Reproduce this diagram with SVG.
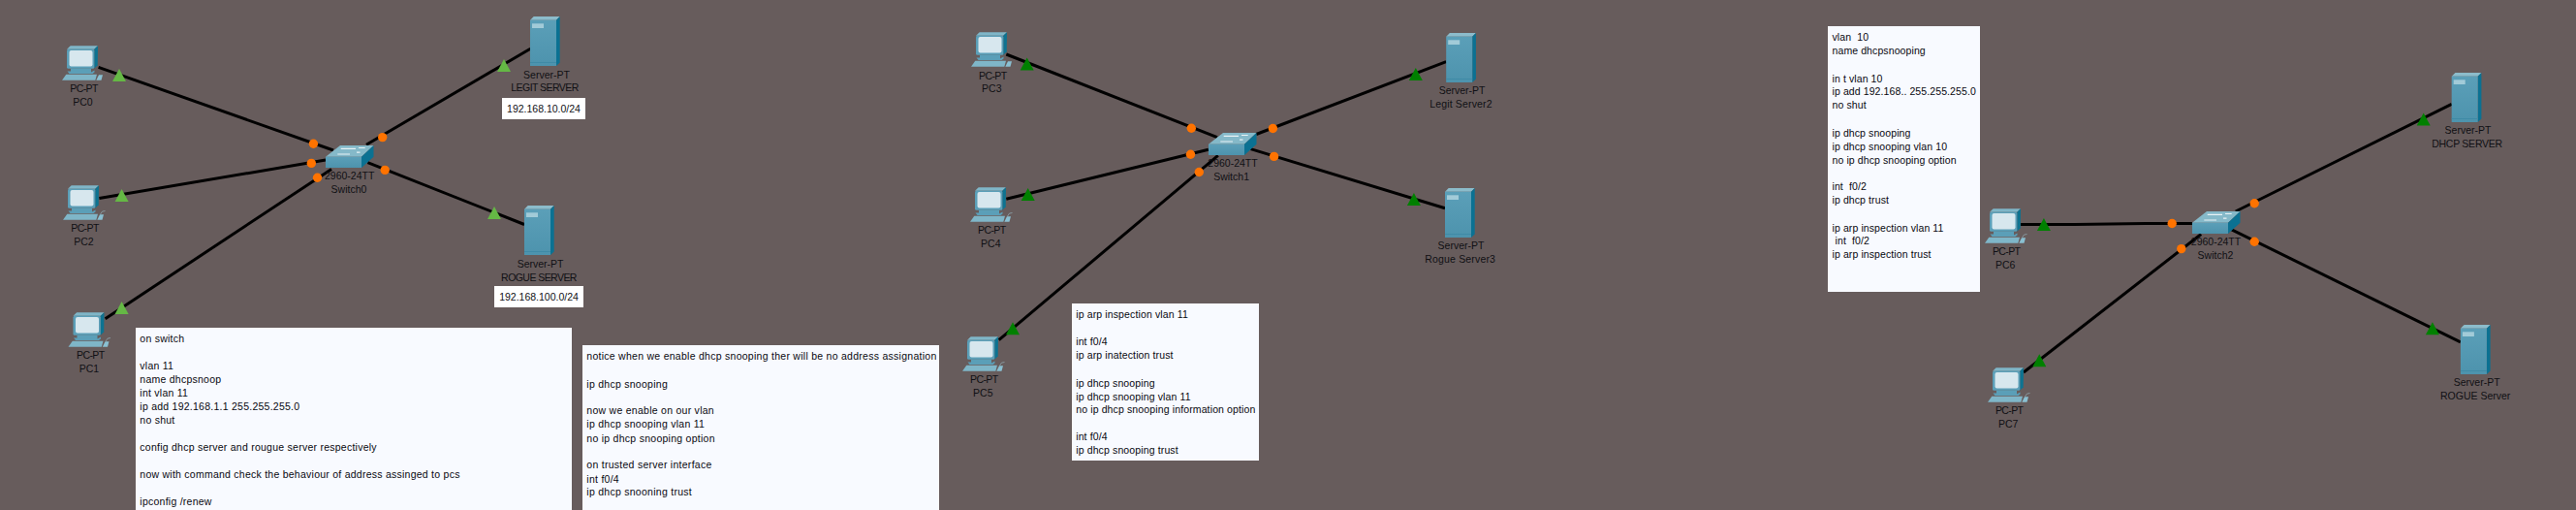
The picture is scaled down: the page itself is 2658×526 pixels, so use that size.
<svg xmlns="http://www.w3.org/2000/svg" width="2658" height="526" viewBox="0 0 2658 526">
<style>
text{font-family:"Liberation Sans",Arial,sans-serif;font-size:10.5px;fill:#08080f;white-space:pre}
.lb{text-anchor:middle;fill:#101014}
.pp{letter-spacing:-.6px}
.nu{letter-spacing:-.55px}
.wd{letter-spacing:.16px}
.up{letter-spacing:-.25px}
#Note1 text{letter-spacing:.25px}
#Note2 text{letter-spacing:.27px}
#Note3 text{letter-spacing:.13px}
#Note4 text{letter-spacing:.1px}
.link{stroke:#000;stroke-width:3;fill:none}
.note{fill:#f8faff}
.wb{fill:#fff}
.dot{fill:#ff7300}
.tl{fill:#65b845}
.td{fill:#008000}
</style>
<defs>
<linearGradient id="fr" x1="0" y1="0" x2="0" y2="1"><stop offset="0" stop-color="#5b9fb8"/><stop offset="1" stop-color="#4d93ad"/></linearGradient>
<g id="pc">
<path d="M5 3.7 8.7.3H37L33.3 3.7Z" fill="#7fb6c8"/>
<path d="M33.3 3.7 37 .3 36.7 20.3 33.3 23.7Z" fill="#0d7391"/>
<rect x="5" y="3.7" width="28.3" height="20" rx="1.5" fill="#5b9fb8"/>
<rect x="7.5" y="5" width="24" height="16.5" rx="2" fill="#d7e7ee"/>
<path d="M9 23.7H30V27.5L33.5 25.5V27.5L31.5 29H7.5L5.5 26.5H9Z" fill="#5b9fb8"/>
<path d="M4.3 29.8H36L34.3 35.7H0Z" fill="#7fb6c8"/>
<path d="M38 30.3H42L40.5 35.7H35.3Z" fill="#8ac0d2"/>
</g>
<g id="pcc">
<use href="#pc"/>
<path d="M38.5 30Q40 26 43.5 26.5" fill="none" stroke="#8ea6ad" stroke-width=".8"/>
</g>
<g id="srv">
<path d="M0 3.7 3.7 0H30.7L27 3.7Z" fill="#8cbccb"/>
<path d="M27 3.7 30.7 0V47.5L27 51Z" fill="#0b7192"/>
<rect x="0" y="3.7" width="27" height="47.3" fill="url(#fr)"/>
<rect x="0" y="47" width="27" height="1" fill="#3f8aa6"/>
<rect x="2" y="7.3" width="12" height="4.7" fill="#a2cbd8"/>
</g>
<g id="sw">
<path d="M0 11.7 15 0H49.5L37 11.7Z" fill="#85b9c9"/>
<path d="M37 11.7 49.5 0V11.7L37 23Z" fill="#0b7192"/>
<rect x="0" y="11.7" width="37" height="11.3" fill="url(#fr)"/>
<path d="M15.7 3.3H31M34 2.5H40.7M12.3 9H25M32 7.2H35.5" stroke="#e8f2f5" stroke-width="1.2" fill="none"/>
</g>
<path id="tri" d="M0-6.5 7 6.5H-7Z"/>
</defs>

<rect width="2658" height="526" fill="#675c5c"/>

<g id="connectors">
<path class="link" d="M101.6 69.4 344 155"/>
<path class="link" d="M102.4 204.6 336 165"/>
<path class="link" d="M108.6 328.7 342 174.4"/>
<path class="link" d="M547.3 50.3 378 149.3"/>
<path class="link" d="M541 231.5 379.4 167.7"/>
<path class="link" d="M1038.3 56 1256 141.6"/>
<path class="link" d="M1038.3 205.3 1246.9 154.3"/>
<path class="link" d="M1030.7 350.6 1256.8 160.3"/>
<path class="link" d="M1492.2 63.7 1296.2 138.5"/>
<path class="link" d="M1491 214.7 1290.5 153.6"/>
<path class="link" d="M2085 231.5H2141L2213 230.5H2262"/>
<path class="link" d="M2088 384 2271.2 241.5"/>
<path class="link" d="M2529.7 107.3 2306.8 218"/>
<path class="link" d="M2538.9 352.9 2302.7 236.8"/>
<g class="tl">
<use href="#tri" x="123" y="77.5"/><use href="#tri" x="125.6" y="201.5"/><use href="#tri" x="125.6" y="317.5"/><use href="#tri" x="520" y="67.5"/><use href="#tri" x="510" y="219.5"/>
</g>
<g class="td">
<use href="#tri" x="1059.7" y="66"/><use href="#tri" x="1060.7" y="200.6"/><use href="#tri" x="1045" y="338.8"/><use href="#tri" x="1460.8" y="76.5"/><use href="#tri" x="1458.9" y="205.6"/>
<use href="#tri" x="2108.9" y="231.5"/><use href="#tri" x="2104.3" y="371.7"/><use href="#tri" x="2500.7" y="123.1"/><use href="#tri" x="2509.9" y="338.8"/>
</g>
<g class="dot">
<circle cx="323.4" cy="148.3" r="4.7"/><circle cx="321.3" cy="168.4" r="4.7"/><circle cx="327.5" cy="183.2" r="4.7"/><circle cx="394.7" cy="141.6" r="4.7"/><circle cx="397.2" cy="175.4" r="4.7"/>
<circle cx="1229.3" cy="132.2" r="4.7"/><circle cx="1228.5" cy="159.3" r="4.7"/><circle cx="1237.3" cy="177.5" r="4.7"/><circle cx="1313.4" cy="132.5" r="4.7"/><circle cx="1314.6" cy="161.4" r="4.7"/>
<circle cx="2241.2" cy="230.5" r="4.7"/><circle cx="2250.8" cy="256.6" r="4.7"/><circle cx="2326.2" cy="209.7" r="4.7"/><circle cx="2326.2" cy="249.2" r="4.7"/>
</g>
</g>

<g id="PC0"><use href="#pc" x="64" y="47"/><text class="lb pp" x="86.6" y="95">PC-PT</text><text class="lb" x="85.5" y="109">PC0</text></g>
<g id="PC2"><use href="#pcc" x="65" y="191"/><text class="lb pp" x="87.5" y="239">PC-PT</text><text class="lb" x="86.5" y="253">PC2</text></g>
<g id="PC1"><use href="#pcc" x="70.5" y="322"/><text class="lb pp" x="93.3" y="370">PC-PT</text><text class="lb" x="92" y="384">PC1</text></g>
<g id="Switch0"><use href="#sw" x="336" y="150"/><text class="lb" x="360.7" y="185">2960-24TT</text><text class="lb" x="360" y="199">Switch0</text></g>
<g id="LegitServer"><use href="#srv" x="547" y="17"/><text class="lb" x="564" y="80.5">Server-PT</text><text class="lb nu" x="562" y="94">LEGIT SERVER</text></g>
<g id="LegitNet"><rect class="wb" x="518" y="101" width="86" height="22"/><text class="lb" x="561" y="116">192.168.10.0/24</text></g>
<g id="RogueServer"><use href="#srv" x="541" y="212"/><text class="lb" x="557.6" y="275.5">Server-PT</text><text class="lb nu" x="556" y="289.5">ROGUE SERVER</text></g>
<g id="RogueNet"><rect class="wb" x="510" y="295" width="92" height="22"/><text class="lb" x="556" y="310">192.168.100.0/24</text></g>

<g id="Note1"><rect class="note" x="140" y="338" width="450" height="188"/>
<text x="144.3" y="353">on switch</text>
<text x="144.3" y="381">vlan 11</text>
<text x="144.3" y="395">name dhcpsnoop</text>
<text x="144.3" y="409">int vlan 11</text>
<text x="144.3" y="423">ip add 192.168.1.1 255.255.255.0</text>
<text x="144.3" y="437">no shut</text>
<text x="144.3" y="465">config dhcp server and rougue server respectively</text>
<text x="144.3" y="493">now with command check the behaviour of address assinged to pcs</text>
<text x="144.3" y="521">ipconfig /renew</text>
</g>
<g id="Note2"><rect class="note" x="601" y="356" width="368" height="170"/>
<text x="605.3" y="371">notice when we enable dhcp snooping ther will be no address assignation</text>
<text x="605.3" y="399.5">ip dhcp snooping</text>
<text x="605.3" y="427.3">now we enable on our vlan</text>
<text x="605.3" y="441.4">ip dhcp snooping vlan 11</text>
<text x="605.3" y="455.5">no ip dhcp snooping option</text>
<text x="605.3" y="483.4">on trusted server interface</text>
<text x="605.3" y="497.5">int f0/4</text>
<text x="605.3" y="511.2">ip dhcp snooning trust</text>
</g>

<g id="PC3"><use href="#pc" x="1002" y="33"/><text class="lb pp" x="1024.3" y="81.5">PC-PT</text><text class="lb" x="1023.3" y="95.2">PC3</text></g>
<g id="PC4"><use href="#pcc" x="1001" y="193"/><text class="lb pp" x="1023.3" y="241.2">PC-PT</text><text class="lb" x="1022.3" y="255.3">PC4</text></g>
<g id="PC5"><use href="#pcc" x="993" y="347"/><text class="lb pp" x="1015.3" y="395.1">PC-PT</text><text class="lb" x="1014.3" y="409.2">PC5</text></g>
<g id="Switch1"><use href="#sw" x="1247" y="137"/><text class="lb" x="1272" y="172.4">2960-24TT</text><text class="lb" x="1270.6" y="186.2">Switch1</text></g>
<g id="LegitServer2"><use href="#srv" x="1492.2" y="34"/><text class="lb" x="1508.6" y="97.3">Server-PT</text><text class="lb wd" x="1507.5" y="111.3">Legit Server2</text></g>
<g id="RogueServer3"><use href="#srv" x="1491" y="194"/><text class="lb" x="1507.5" y="257">Server-PT</text><text class="lb wd" x="1506.7" y="271">Rogue Server3</text></g>
<g id="Note3"><rect class="note" x="1106" y="313" width="193" height="162"/>
<text x="1110.2" y="328.4">ip arp inspection vlan 11</text>
<text x="1110.2" y="356.2">int f0/4</text>
<text x="1110.2" y="370.3">ip arp inatection trust</text>
<text x="1110.2" y="398.5">ip dhcp snooping</text>
<text x="1110.2" y="412.6">ip dhcp snooping vlan 11</text>
<text x="1110.2" y="426.3">no ip dhcp snooping information option</text>
<text x="1110.2" y="454.2">int f0/4</text>
<text x="1110.2" y="468.3">ip dhcp snooping trust</text>
</g>

<g id="Note4"><rect class="note" x="1886" y="27" width="157" height="274"/>
<text x="1890.5" y="42.2">vlan  10</text>
<text x="1890.5" y="56.3">name dhcpsnooping</text>
<text x="1890.5" y="84.5">in t vlan 10</text>
<text x="1890.5" y="98.3">ip add 192.168.. 255.255.255.0</text>
<text x="1890.5" y="112.4">no shut</text>
<text x="1890.5" y="140.5">ip dhcp snooping</text>
<text x="1890.5" y="154.6">ip dhcp snooping vlan 10</text>
<text x="1890.5" y="168.7">no ip dhcp snooping option</text>
<text x="1890.5" y="196.2">int  f0/2</text>
<text x="1890.5" y="210.3">ip dhcp trust</text>
<text x="1890.5" y="238.5">ip arp inspection vlan 11</text>
<text x="1890.5" y="252.2"> int  f0/2</text>
<text x="1890.5" y="266.3">ip arp inspection trust</text>
</g>
<g id="PC6"><use href="#pcc" x="2048" y="215"/><text class="lb pp" x="2070.2" y="263.3">PC-PT</text><text class="lb" x="2069.2" y="277.4">PC6</text></g>
<g id="PC7"><use href="#pcc" x="2051" y="379"/><text class="lb pp" x="2073.2" y="427.3">PC-PT</text><text class="lb" x="2072.2" y="441.4">PC7</text></g>
<g id="Switch2"><use href="#sw" x="2262" y="218"/><text class="lb" x="2286.5" y="253.2">2960-24TT</text><text class="lb" x="2286" y="267.3">Switch2</text></g>
<g id="DHCPServer"><use href="#srv" x="2529.7" y="75"/><text class="lb" x="2546.5" y="138.2">Server-PT</text><text class="lb up" x="2545.5" y="151.9">DHCP SERVER</text></g>
<g id="RogueServer4"><use href="#srv" x="2538.9" y="335"/><text class="lb" x="2555.7" y="398.2">Server-PT</text><text class="lb" x="2554.2" y="412.2">ROGUE Server</text></g>
</svg>
